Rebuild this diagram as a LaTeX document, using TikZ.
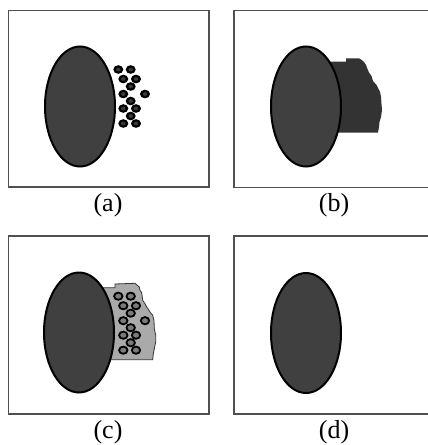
\documentclass[tikz,border=0pt]{standalone}
\usepackage{fontspec}
\setmainfont{Liberation Serif}
\definecolor{ellfill}{HTML}{404040}
\definecolor{blobdark}{HTML}{333333}
\definecolor{blobgray}{HTML}{AAAAAA}
\definecolor{framecol}{HTML}{505050}
\definecolor{dotcenter}{HTML}{3A3A3A}
\definecolor{dotgray}{HTML}{7A7A7A}
\begin{document}
\begin{tikzpicture}[x=1pt,y=-1pt,
  frame/.style={draw=framecol,line width=1.2pt},
  bigell/.style={draw=black,line width=2pt,fill=ellfill},
  label/.style={font=\fontsize{26}{30}\selectfont,inner sep=0pt},
  dotA/.style={fill=black},
  dotC/.style={draw=black,line width=1.8pt,fill=dotgray}]
\clip (0,0) rectangle (428,445);
\fill[white] (0,0) rectangle (428,445);
% frames
\draw[frame] (8.5,10.5) rectangle (209,187);
\draw[frame] (234,10.5) rectangle (440,187.5);
\draw[frame] (8.5,236) rectangle (209,414);
\draw[frame] (234,236) rectangle (440,414);
% (a)
\draw[bigell] (80,106.5) ellipse [x radius=35pt, y radius=60pt];
\foreach \px/\py in {118.3/69.5,130.7/69.5,123.3/79,136/79,130.7/86.5,123.3/94,145/94,130.7/101,123.3/108.5,136/108.5,130.7/116,123.3/123.5,136/123.5}{
  \fill[dotA] (\px,\py) ellipse [x radius=5pt, y radius=4.3pt];
  \fill[dotcenter] (\px,\py) ellipse [x radius=2.3pt, y radius=1.9pt];
}
% (b)
\fill[blobdark] (320,61.7) -- (346,61.7) -- (346,58.3) -- (359,58.3) -- (361.7,60) -- (364,62) -- (366,65) -- (367.5,69) -- (369,72.5) -- (371.5,76) -- (373,81) -- (376.5,85) -- (378.3,88.5) -- (380,92) -- (381,97) -- (381.5,104) -- (382,110) -- (381,117) -- (379.5,122) -- (379,127) -- (378,132.5) -- (320,132.5) -- cycle;
\draw[bigell] (306,106.5) ellipse [x radius=35pt, y radius=60pt];
% (c)
\filldraw[fill=blobgray,draw=black!80,line width=0.8pt] (100,287.7) -- (115,287.7) -- (115,284) -- (135,283.3) -- (137.3,285.3) -- (139.3,287) -- (140,290.3) -- (141.7,292.7) -- (142.7,300.3) -- (145,303.7) -- (146.7,307) -- (148.3,309.3) -- (150,312) -- (152.7,315.3) -- (154,320.3) -- (154.3,328.7) -- (155.7,335.3) -- (155.7,342) -- (154.3,348.7) -- (153.3,353.7) -- (152.7,359.7) -- (100,359.7) -- cycle;
\draw[bigell] (79,332.5) ellipse [x radius=35pt, y radius=60pt];
\foreach \px/\py in {118.3/69.5,130.7/69.5,123.3/79,136/79,130.7/86.5,123.3/94,145/94,130.7/101,123.3/108.5,136/108.5,130.7/116,123.3/123.5,136/123.5}{
  \draw[dotC] (\px,\py+226.7) ellipse [x radius=4.2pt, y radius=3.6pt];
}
% (d)
\draw[bigell] (306,333) ellipse [x radius=35pt, y radius=60pt];
% labels
\node[label] (la) at (108,205) {(a)};
\node[label] (lb) at (334,205) {(b)};
\node[label] (lc) at (108,432) {(c)};
\node[label] (ld) at (334,432) {(d)};
\end{tikzpicture}
\end{document}
